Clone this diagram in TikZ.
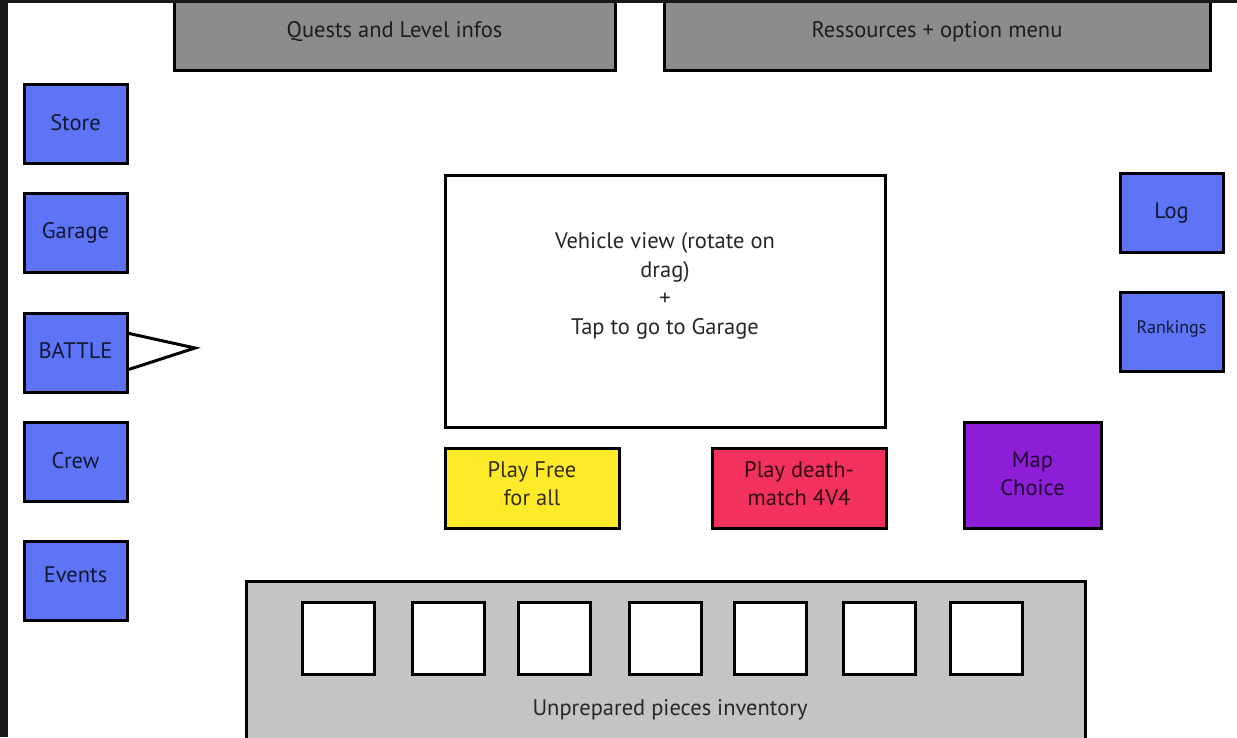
\documentclass[tikz,border=0pt]{standalone}
\usepackage{fontspec}
\setmainfont{PT Sans}
\definecolor{btnblue}{HTML}{5E74F6}
\definecolor{topgray}{HTML}{8C8C8E}
\definecolor{invgray}{HTML}{C4C4C4}
\definecolor{btnyellow}{HTML}{FFEA2A}
\definecolor{btnpink}{HTML}{F2325C}
\definecolor{btnpurple}{HTML}{8E1ED8}
\begin{document}
\begin{tikzpicture}[x=1pt,y=-1pt,
  lbl/.style={font=\fontsize{22.5}{28}\selectfont,align=center,inner sep=0pt,text=black,text opacity=0.8},
  box/.style={draw=black,line width=3pt,inner sep=0pt,align=center},
  bluebtn/.style={box,fill=btnblue,minimum width=103pt,minimum height=79pt},
  topbar/.style={box,fill=topgray},
  slot/.style={draw=black,line width=3pt,fill=white,minimum width=72pt,minimum height=72pt,inner sep=0pt}
]
\useasboundingbox (0,0) rectangle (1237,737);
\clip (0,0) rectangle (1237,737);
\fill[white] (0,0) rectangle (1237,737);

% top info bars
\node[topbar,minimum width=441pt,minimum height=74pt] (quests) at (394.5,33) {};
\node[lbl] (questsT) at (394.5,32) {Quests and Level infos};
\node[topbar,minimum width=546pt,minimum height=74pt] (res) at (937,33) {};
\node[lbl] (resT) at (937,32) {Ressources + option menu};

% left buttons
\node[bluebtn] (store) at (75.5,124) {};
\node[lbl] (storeT) at (75.5,123) {Store};
\node[bluebtn] (garage) at (75.5,233) {};
\node[lbl] (garageT) at (75.5,233) {Garage};
\node[bluebtn] (battle) at (75.5,352.5) {};
\node[lbl] (battleT) at (75.5,351) {BATTLE};
\node[bluebtn] (crew) at (75.5,461.5) {};
\node[lbl] (crewT) at (75.5,461) {Crew};
\node[bluebtn] (events) at (75.5,581) {};
\node[lbl] (eventsT) at (75.5,575) {Events};
\coordinate (apex) at (195,348);
\draw[line width=3pt,line join=miter] (127,333) -- (apex) -- (127,370);

% right buttons
\node[bluebtn] (log) at (1171.5,213) {};
\node[lbl] (logT) at (1171.5,213) {Log};
\node[bluebtn] (rank) at (1171.5,332) {};
\node[lbl,font=\fontsize{18}{22}\selectfont] (rankT) at (1171.5,329) {Rankings};

% vehicle view
\node[box,fill=white,minimum width=440pt,minimum height=252pt] (view) at (665,301) {};
\node[lbl,font=\fontsize{22.5}{28.5}\selectfont,text opacity=0.85] (viewT) at (665,286) {Vehicle view (rotate on\\drag)\\+\\Tap to go to Garage};

% play buttons
\node[box,fill=btnyellow,minimum width=174pt,minimum height=80pt] (ffa) at (532,488) {};
\node[lbl] (ffaT) at (532,484) {Play Free\\for all};
\node[box,fill=btnpink,minimum width=174pt,minimum height=80pt] (dm) at (799,488) {};
\node[lbl] (dmT) at (799,484) {Play death-\\match 4V4};
\node[box,fill=btnpurple,minimum width=137pt,minimum height=106pt] (map) at (1032.5,475) {};
\node[lbl] (mapT) at (1032.5,474) {Map\\Choice};

% inventory
\node[box,fill=invgray,minimum width=839pt,minimum height=180pt] (inv) at (665.5,671) {};
\node[lbl] (invT) at (670,710) {Unprepared pieces inventory};
\node[slot] (s1) at (338,638) {};
\node[slot] (s2) at (448,638) {};
\node[slot] (s3) at (554,638) {};
\node[slot] (s4) at (665,638) {};
\node[slot] (s5) at (770,638) {};
\node[slot] (s6) at (879,638) {};
\node[slot] (s7) at (986,638) {};

% frame
\fill[black!90] (0,0) rectangle (8,737);
\fill[black!90] (0,0) rectangle (1237,3);
\end{tikzpicture}
\end{document}
